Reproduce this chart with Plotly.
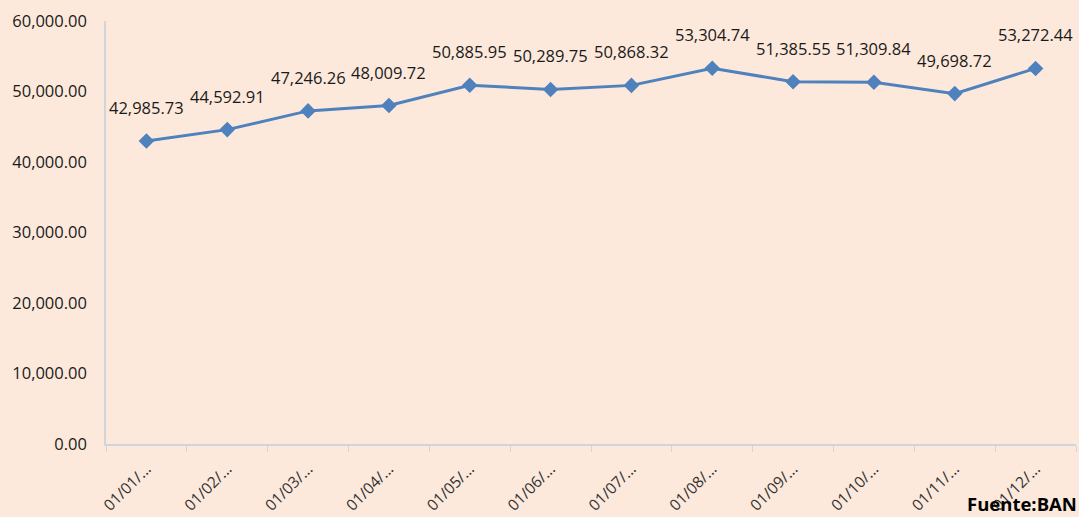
import plotly.graph_objects as go

categories = ["01/01/...", "01/02/...", "01/03/...", "01/04/...", "01/05/...", "01/06/...",
              "01/07/...", "01/08/...", "01/09/...", "01/10/...", "01/11/...", "01/12/..."]
values = [42985.73, 44592.91, 47246.26, 48009.72, 50885.95, 50289.75,
          50868.32, 53304.74, 51385.55, 51309.84, 49698.72, 53272.44]
y_ticks = [0, 10000, 20000, 30000, 40000, 50000, 60000]
y_tick_labels = ["0.00", "10,000.00", "20,000.00", "30,000.00", "40,000.00", "50,000.00", "60,000.00"]

BG = "#FCE9DB"
LINE = "#4F81BD"
FONT = "Open Sans"

fig = go.Figure()
fig.add_trace(go.Scatter(
    x=categories, y=values, mode="lines+markers",
    line=dict(color=LINE, width=3),
    marker=dict(symbol="diamond", size=12, color=LINE),
    hoverinfo="skip", showlegend=False,
))

for c, v in zip(categories, values):
    fig.add_annotation(x=c, y=v, text=f"{v:,.2f}", showarrow=False,
                       yanchor="bottom", yshift=20,
                       font=dict(family=FONT, size=16.5, color="#1a1a1a"))

fig.add_annotation(xref="paper", yref="paper", x=1.003, y=-0.14, xanchor="right", yanchor="middle",
                   text="<b>Fuente:BAN</b>", showarrow=False,
                   font=dict(family=FONT, size=18.5, color="#000000"))

fig.update_layout(
    width=1079, height=517,
    paper_bgcolor=BG, plot_bgcolor=BG,
    margin=dict(l=106, r=3, t=21, b=73, autoexpand=False),
    xaxis=dict(
        type="category", tickangle=-45, tickson="boundaries", automargin=False,
        ticks="outside", ticklen=6, tickcolor="#D0D5DC",
        showline=True, linecolor="#D0D5DC", linewidth=1.5,
        showgrid=False, zeroline=False,
        tickfont=dict(family=FONT, size=15.5, color="#333333"),
        ticklabelstandoff=8,
        range=[-0.5, 11.5],
    ),
    yaxis=dict(
        range=[0, 60000], tickvals=y_ticks, ticktext=y_tick_labels, automargin=False,
        showline=True, linecolor="#D0D5DC", linewidth=1.5,
        showgrid=False, zeroline=False, ticks="",
        tickfont=dict(family=FONT, size=16.5, color="#1a1a1a"),
        ticklabelstandoff=14,
    ),
)

fig.write_html("out.html", config={"displayModeBar": False},
               post_script="document.body.style.margin='0';document.body.style.overflow='hidden';")
